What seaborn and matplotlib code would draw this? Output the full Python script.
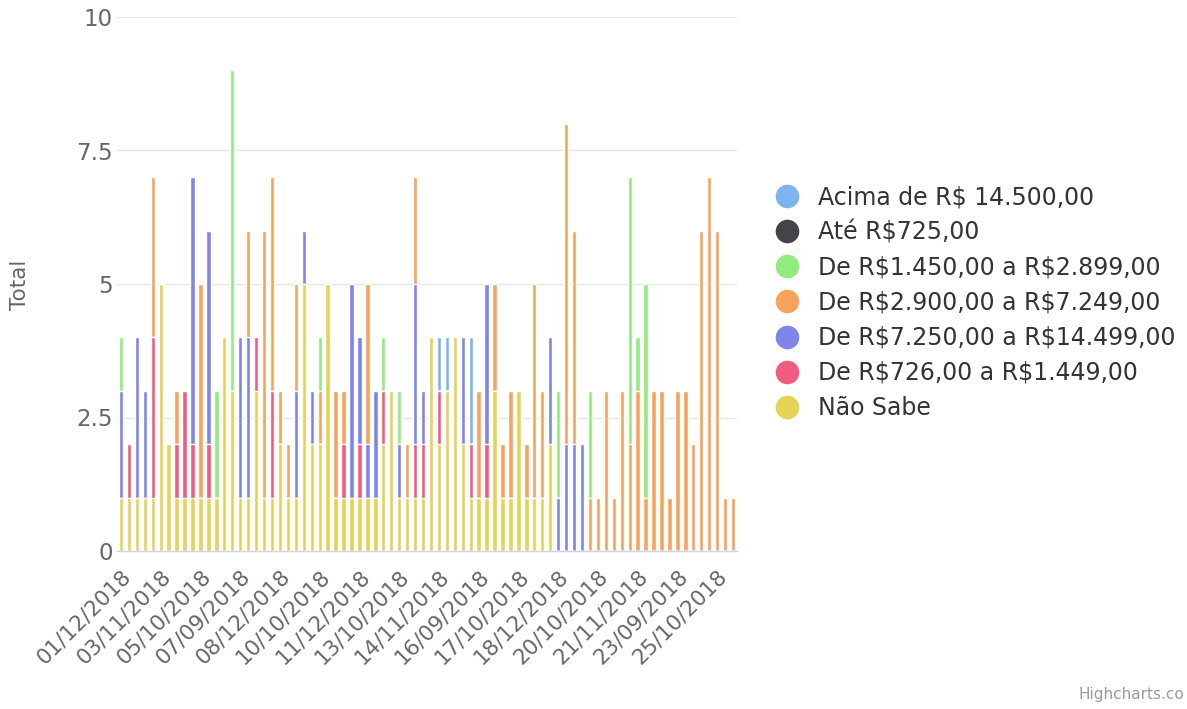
import numpy as np
import matplotlib
matplotlib.use("Agg")
import matplotlib.pyplot as plt
import seaborn as sns
from matplotlib.lines import Line2D

# one value per category (78 dates)
nao_sabe = [1, 1, 1, 1, 1, 5, 2, 1, 1, 1,
            1, 1, 1, 4, 3, 1, 1, 3, 1, 1,
            2, 1, 1, 5, 2, 2, 5, 1, 1, 1,
            1, 1, 1, 2, 3, 1, 1, 1, 1, 4,
            2, 3, 4, 2, 1, 1, 1, 3, 1, 1,
            3, 1, 1, 1, 2, 0, 0, 0, 0, 0,
            0, 0, 0, 0, 0, 0, 0, 0, 0, 0,
            0, 0, 0, 0, 0, 0, 0, 0]
de_726 = [0, 1, 0, 0, 3, 0, 0, 1, 2, 1,
          0, 1, 0, 0, 0, 0, 0, 1, 0, 2,
          0, 0, 0, 0, 0, 0, 0, 0, 1, 0,
          1, 0, 0, 1, 0, 0, 0, 1, 1, 0,
          1, 0, 0, 0, 1, 0, 1, 0, 0, 0,
          0, 0, 0, 0, 0, 0, 0, 0, 0, 0,
          0, 0, 0, 0, 0, 0, 0, 0, 0, 0,
          0, 0, 0, 0, 0, 0, 0, 0]
de_7250 = [2, 0, 3, 2, 0, 0, 0, 0, 0, 5,
           0, 4, 0, 0, 0, 3, 3, 0, 0, 0,
           0, 0, 2, 1, 1, 0, 0, 0, 0, 4,
           2, 1, 2, 0, 0, 1, 0, 3, 1, 0,
           0, 0, 0, 2, 0, 0, 3, 0, 0, 0,
           0, 0, 0, 0, 2, 1, 2, 2, 2, 0,
           0, 0, 0, 0, 0, 0, 0, 0, 0, 0,
           0, 0, 0, 0, 0, 0, 0, 0]
de_2900 = [0, 0, 0, 0, 3, 0, 0, 1, 0, 0,
           4, 0, 0, 0, 0, 0, 2, 0, 5, 4,
           1, 1, 2, 0, 0, 1, 0, 2, 1, 0,
           0, 3, 0, 0, 0, 0, 1, 2, 0, 0,
           0, 0, 0, 0, 0, 2, 0, 2, 1, 2,
           0, 1, 4, 2, 0, 0, 6, 4, 0, 1,
           1, 3, 1, 3, 2, 3, 1, 3, 3, 1,
           3, 3, 2, 6, 7, 6, 1, 1]
de_1450 = [1, 0, 0, 0, 0, 0, 0, 0, 0, 0,
           0, 0, 2, 0, 6, 0, 0, 0, 0, 0,
           0, 0, 0, 0, 0, 1, 0, 0, 0, 0,
           0, 0, 0, 1, 0, 1, 0, 0, 0, 0,
           0, 0, 0, 0, 0, 0, 0, 0, 0, 0,
           0, 0, 0, 0, 0, 2, 0, 0, 0, 2,
           0, 0, 0, 0, 5, 1, 4, 0, 0, 0,
           0, 0, 0, 0, 0, 0, 0, 0]
ate_725 = [0] * 78
acima = [0, 0, 0, 0, 0, 0, 0, 0, 0, 0,
         0, 0, 0, 0, 0, 0, 0, 0, 0, 0,
         0, 0, 0, 0, 0, 0, 0, 0, 0, 0,
         0, 0, 0, 0, 0, 0, 0, 0, 0, 0,
         1, 1, 0, 0, 2, 0, 0, 0, 0, 0,
         0, 0, 0, 0, 0, 0, 0, 0, 0, 0,
         0, 0, 0, 0, 0, 0, 0, 0, 0, 0,
         0, 0, 0, 0, 0, 0, 0, 0]

tick_labels = ["01/12/2018", "03/11/2018", "05/10/2018", "07/09/2018",
               "08/12/2018", "10/10/2018", "11/12/2018", "13/10/2018",
               "14/11/2018", "16/09/2018", "17/10/2018", "18/12/2018",
               "20/10/2018", "21/11/2018", "23/09/2018", "25/10/2018"]

legend_labels = ["Acima de R$ 14.500,00", "Até R$725,00",
                 "De R$1.450,00 a R$2.899,00", "De R$2.900,00 a R$7.249,00",
                 "De R$7.250,00 a R$14.499,00", "De R$726,00 a R$1.449,00",
                 "Não Sabe"]
colors = ["#7cb5ec", "#434348", "#90ed7d", "#f7a35c", "#8085e9", "#f15c80", "#e4d354"]

sns.set_theme(style="white")
plt.rcParams["font.family"] = ["DejaVu Sans"]
plt.rcParams["text.parse_math"] = False  # keep the R$ signs literal

fig = plt.figure(figsize=(11.87, 7.09), dpi=100)
ax = fig.add_axes([117 / 1187, 1 - 551 / 709, 620 / 1187, 534 / 709])

pos = np.arange(len(nao_sabe))
# bottom -> top stacking order (reverse of legend)
stack = [nao_sabe, de_726, de_7250, de_2900, de_1450, ate_725, acima]
stack_colors = colors[::-1]

cum = np.zeros(len(pos))
tops = []
for vals in stack:
    cum = cum + np.array(vals)
    tops.append(cum.copy())

# draw tallest cumulative first so the lower segments sit on top
for top, c in reversed(list(zip(tops, stack_colors))):
    sns.barplot(x=pos, y=top, color=c, saturation=1, width=0.55,
                edgecolor="white", linewidth=1, ax=ax)

ax.set_xlim(-0.5, len(pos) - 0.5)
ax.set_ylim(0, 10)
ax.set_yticks([0, 2.5, 5, 7.5, 10])
ax.set_yticklabels(["0", "2.5", "5", "7.5", "10"])
ax.set_xticks(range(0, len(pos), 5))
ax.set_xticklabels(tick_labels, rotation=45, ha="right", rotation_mode="anchor")
ax.set_xlabel("")
ax.set_ylabel("")

ax.yaxis.grid(True, color="#e6e6e6", linewidth=1)
ax.set_axisbelow(True)
for s in ["top", "right", "left"]:
    ax.spines[s].set_visible(False)
ax.spines["bottom"].set_color("#ccd6eb")
ax.spines["bottom"].set_linewidth(1)

ax.tick_params(axis="x", length=7, width=1, color="#ccd6eb", labelcolor="#666666",
               labelsize=15.5, pad=4)
ax.tick_params(axis="y", length=0, labelcolor="#666666", labelsize=16.5, pad=3)

fig.text(20 / 1187, 1 - 285 / 709, "Total", rotation=90, ha="center", va="center",
         color="#666666", fontsize=15.5)

handles = [Line2D([], [], marker="o", ls="", markersize=16, markerfacecolor=c,
                  markeredgecolor=c) for c in colors]
fig.legend(handles, legend_labels, loc="upper left",
           bbox_to_anchor=(754 / 1187, 1 - 176 / 709), frameon=False,
           fontsize=17, labelcolor="#333333", labelspacing=0.47,
           handletextpad=0.3, borderaxespad=0)

fig.text(1184 / 1187, 1 - 695 / 709, "Highcharts.co", ha="right", va="center",
         color="#999999", fontsize=11)

fig.savefig("out.png", dpi=100)
